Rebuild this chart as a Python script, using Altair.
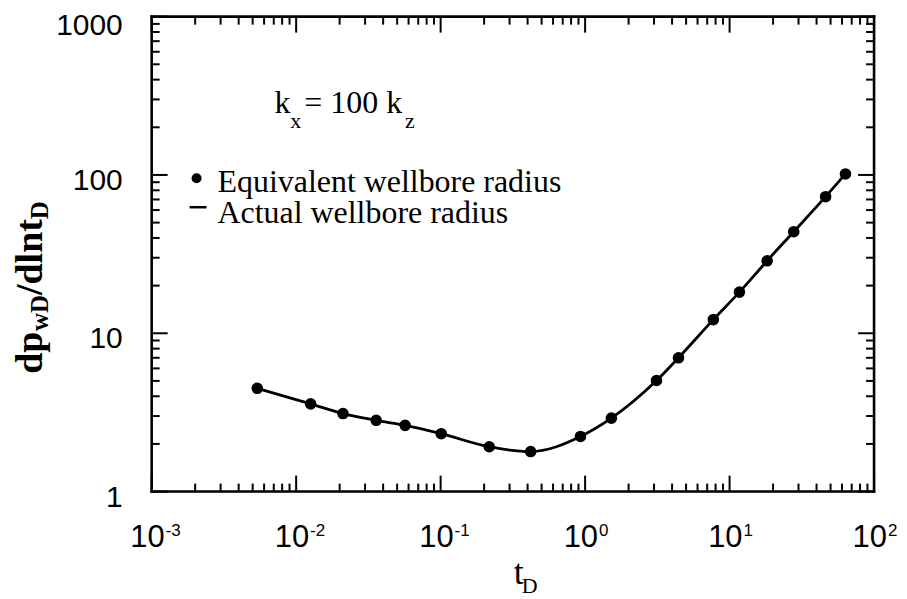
import altair as alt
import pandas as pd

# ---- data ----
t_D = [0.00538, 0.0126, 0.0211, 0.0358, 0.0568, 0.101, 0.217, 0.42, 0.929,
       1.52, 3.12, 4.43, 7.72, 11.7, 18.2, 27.8, 46.2, 63.4]
dp_dlnt = [4.49, 3.58, 3.11, 2.82, 2.62, 2.32, 1.92, 1.79, 2.23,
           2.91, 5.03, 7.0, 12.2, 18.2, 28.7, 43.8, 72.9, 101.5]

x_major = [0.001, 0.01, 0.1, 1, 10, 100]
x_exp = ["-3", "-2", "-1", "0", "1", "2"]
x_minor = [m * 10.0 ** e for e in range(-3, 2) for m in range(2, 10)]
y_major = [1, 10, 100]
y_labels = ["1", "10", "100"]
y_top = [1000]
y_top_label = ["1000"]
y_minor = [m * 10.0 ** e for e in range(0, 3) for m in range(2, 10)]

W, H = 724, 476
MAJ, MIN = 16, 8
SERIF = "Liberation Serif"
SANS = "Liberation Sans"

xs = alt.Scale(type="log", domain=[0.001, 100], nice=False)
ys = alt.Scale(type="log", domain=[1, 1000], nice=False)

pts = pd.DataFrame({"t": t_D, "p": dp_dlnt})

line = alt.Chart(pts).mark_line(color="black", strokeWidth=2.8, interpolate="monotone").encode(
    x=alt.X("t:Q", scale=xs, axis=None),
    y=alt.Y("p:Q", scale=ys, axis=None),
)
dots = alt.Chart(pts).mark_circle(color="black", size=135, opacity=1).encode(
    x=alt.X("t:Q", scale=xs, axis=None),
    y=alt.Y("p:Q", scale=ys, axis=None),
)


def xticks(vals, length, top):
    y0 = 0 if top else H
    y1 = length if top else H - length
    return alt.Chart(pd.DataFrame({"v": vals})).mark_rule(color="black", strokeWidth=2).encode(
        x=alt.X("v:Q", scale=xs, axis=None), y=alt.value(y0), y2=alt.value(y1))


def yticks(vals, length, right):
    x0 = W if right else 0
    x1 = W - length if right else length
    return alt.Chart(pd.DataFrame({"v": vals})).mark_rule(color="black", strokeWidth=2).encode(
        y=alt.Y("v:Q", scale=ys, axis=None), x=alt.value(x0), x2=alt.value(x1))


def txt(s, x, y, size, font=SERIF, weight="normal", angle=0, align="left"):
    return alt.Chart(pd.DataFrame({"s": [s]})).mark_text(
        text=s, font=font, fontSize=size, fontWeight=weight, angle=angle,
        align=align, baseline="alphabetic", color="black").encode(
        x=alt.value(x), y=alt.value(y))


def frame_rule(**enc):
    return alt.Chart(pd.DataFrame({"s": ["f"]})).mark_rule(
        color="black", strokeWidth=2.6, strokeCap="square").encode(**enc)


frame = [
    frame_rule(x=alt.value(0), x2=alt.value(W), y=alt.value(0)),
    frame_rule(x=alt.value(0), x2=alt.value(W), y=alt.value(H)),
    frame_rule(y=alt.value(0), y2=alt.value(H), x=alt.value(0)),
    frame_rule(y=alt.value(0), y2=alt.value(H), x=alt.value(W)),
]

tick_df = pd.DataFrame({"v": x_major, "e": x_exp})
xlab10 = alt.Chart(tick_df).mark_text(
    text="10", font=SANS, fontSize=31, align="right", baseline="alphabetic", dx=13, color="black").encode(
    x=alt.X("v:Q", scale=xs, axis=None), y=alt.value(H + 56))
xlabexp = alt.Chart(tick_df).mark_text(
    font=SANS, fontSize=17, align="left", baseline="alphabetic", dx=14, color="black").encode(
    x=alt.X("v:Q", scale=xs, axis=None), y=alt.value(H + 45), text="e:N")

ylab = alt.Chart(pd.DataFrame({"v": y_major, "s": y_labels})).mark_text(
    font=SANS, fontSize=30, align="right", baseline="middle", dy=6, color="black").encode(
    y=alt.Y("v:Q", scale=ys, axis=None), x=alt.value(-29), text="s:N")
ylab_top = alt.Chart(pd.DataFrame({"v": y_top, "s": y_top_label})).mark_text(
    font=SANS, fontSize=30, align="right", baseline="middle", dy=9, color="black").encode(
    y=alt.Y("v:Q", scale=ys, axis=None), x=alt.value(-29), text="s:N")

legend_dot = alt.Chart(pd.DataFrame({"s": ["dot"]})).mark_circle(color="black", size=100, opacity=1).encode(
    x=alt.value(45), y=alt.value(162))
legend_dash = alt.Chart(pd.DataFrame({"s": ["dash"]})).mark_rule(color="black", strokeWidth=2.5).encode(
    x=alt.value(38), x2=alt.value(55), y=alt.value(191))

layers = [
    line, dots,
    xticks(x_major, MAJ, False), xticks(x_minor, MIN, False),
    xticks(x_major, MAJ, True), xticks(x_minor, MIN, True),
    yticks(y_major + y_top, MAJ, False), yticks(y_minor, MIN, False),
    yticks(y_major + y_top, MAJ, True), yticks(y_minor, MIN, True),
    *frame,
    xlab10, xlabexp, ylab, ylab_top,
    # annotation k_x = 100 k_z
    txt("k", 123, 97, 32), txt("x", 139, 112, 22),
    txt("= 100 k", 153, 97, 32), txt("z", 254, 112, 22),
    # legend
    legend_dot, legend_dash,
    txt("Equivalent wellbore radius", 66, 176, 32),
    txt("Actual wellbore radius", 66, 207, 32),
    # y title (rotated)
    txt("dp", -110, 358, 38, weight="bold", angle=270),
    txt("wD", -104, 315, 25, weight="bold", angle=270),
    txt("/dlnt", -110, 279, 38, weight="bold", angle=270),
    txt("D", -104, 203, 25, weight="bold", angle=270),
    # x title
    txt("t", 363, 569, 36), txt("D", 371, 578, 22),
]

chart = alt.layer(*layers).properties(
    width=W, height=H,
    padding={"left": 144, "top": 8, "right": 25, "bottom": 106},
    autosize=alt.AutoSizeParams(type="none"),
).configure_view(stroke=None).configure(background="white")

chart.save("out.html", embed_options={"renderer": "svg", "actions": False})
